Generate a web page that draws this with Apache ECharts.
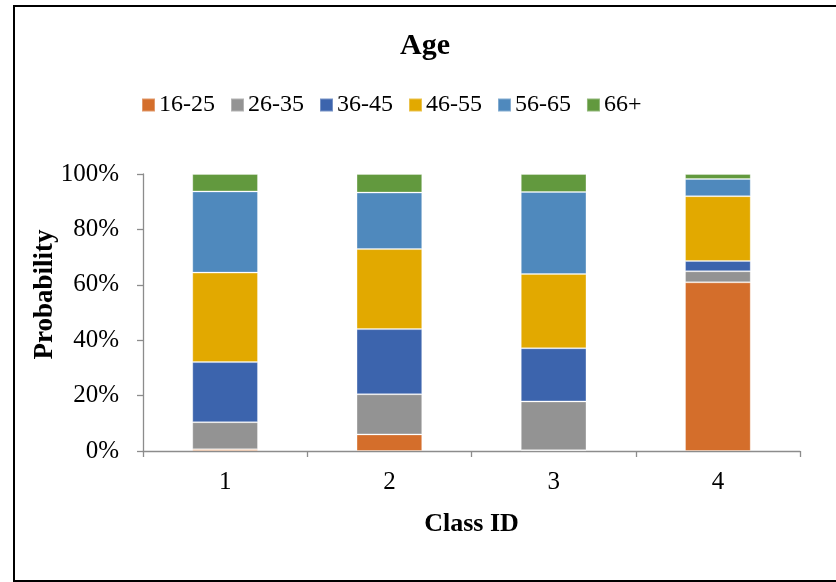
<!DOCTYPE html>
<html>
<head>
<meta charset="utf-8">
<style>
  html, body { margin: 0; padding: 0; background: #fff; }
  #chart { width: 836px; height: 582px; }
</style>
<script src="https://cdn.jsdelivr.net/npm/echarts@6/dist/echarts.min.js"></script>
</head>
<body>
<div id="chart"></div>
<script>
// Age-group share per latent class (percent of class members)
const classIds = ['1', '2', '3', '4'];
const age16to25 = [0.6, 6.0, 0.3, 60.9];
const age26to35 = [9.8, 14.5, 17.6, 4.0];
const age36to45 = [21.7, 23.5, 19.2, 3.7];
const age46to55 = [32.3, 28.9, 26.8, 23.4];
const age56to65 = [29.3, 20.4, 29.6, 6.2];
const age66plus = [6.3, 6.7, 6.5, 1.8];
const yTicks = [0, 20, 40, 60, 80, 100];

const groups = [
  { name: '16-25', data: age16to25, color: '#D46E2B' },
  { name: '26-35', data: age26to35, color: '#939393' },
  { name: '36-45', data: age36to45, color: '#3C64AD' },
  { name: '46-55', data: age46to55, color: '#E2A900' },
  { name: '56-65', data: age56to65, color: '#4F89BD' },
  { name: '66+',   data: age66plus, color: '#62993E' }
];

const serif = '"Liberation Serif", "DejaVu Serif", serif';
const axisGray = '#8C8C8C';

const chart = echarts.init(document.getElementById('chart'), null, { renderer: 'canvas' });

chart.setOption({
  animation: false,
  backgroundColor: '#fff',
  textStyle: { fontFamily: serif },
  title: {
    text: 'Age',
    left: 400,
    top: 31,
    padding: 0,
    textStyle: { fontFamily: serif, fontSize: 30, fontWeight: 'bold', color: '#000' }
  },
  legend: {
    left: 141,
    top: 93,
    padding: 0,
    itemGap: 15,
    itemWidth: 13,
    itemHeight: 13,
    icon: 'rect',
    textStyle: { fontFamily: serif, fontSize: 24, color: '#000', padding: [0, 0, 0, -1] },
    data: groups.map(g => g.name)
  },
  grid: { left: 143, right: 36, top: 174, bottom: 131, containLabel: false },
  xAxis: {
    type: 'category',
    data: classIds,
    boundaryGap: true,
    name: 'Class ID',
    nameLocation: 'middle',
    nameGap: 60,
    nameMoveOverlap: false,
    nameTextStyle: { fontFamily: serif, fontSize: 26, fontWeight: 'bold', color: '#000' },
    axisLine: { lineStyle: { color: axisGray, width: 1.3 } },
    axisTick: { show: true, length: 6, alignWithLabel: false, lineStyle: { color: axisGray, width: 1.3 } },
    axisLabel: { fontFamily: serif, fontSize: 25, color: '#000', margin: 19 },
    splitLine: { show: false }
  },
  yAxis: {
    type: 'value',
    min: yTicks[0],
    max: yTicks[yTicks.length - 1],
    interval: yTicks[1] - yTicks[0],
    name: 'Probability',
    nameLocation: 'middle',
    nameGap: 84,
    nameRotate: 90,
    nameMoveOverlap: false,
    nameTextStyle: { fontFamily: serif, fontSize: 27, fontWeight: 'bold', color: '#000', padding: [0, 0, 0, 36] },
    axisLine: { show: true, lineStyle: { color: axisGray, width: 1.3 } },
    axisTick: { show: true, length: 6, lineStyle: { color: axisGray, width: 1.3 } },
    axisLabel: { fontFamily: serif, fontSize: 25, color: '#000', margin: 24, formatter: '{value}%' },
    splitLine: { show: false }
  },
  series: groups.map(g => ({
    name: g.name,
    type: 'bar',
    stack: 'age',
    barWidth: '40%',
    data: g.data,
    itemStyle: { color: g.color, borderColor: 'rgba(255,255,255,0.3)', borderWidth: 1 }
  })),
  graphic: [{
    type: 'rect',
    shape: { x: 14, y: 6, width: 840, height: 575 },
    style: { fill: 'none', stroke: '#000', lineWidth: 2 },
    silent: true,
    z: 100
  }]
});
</script>
</body>
</html>
